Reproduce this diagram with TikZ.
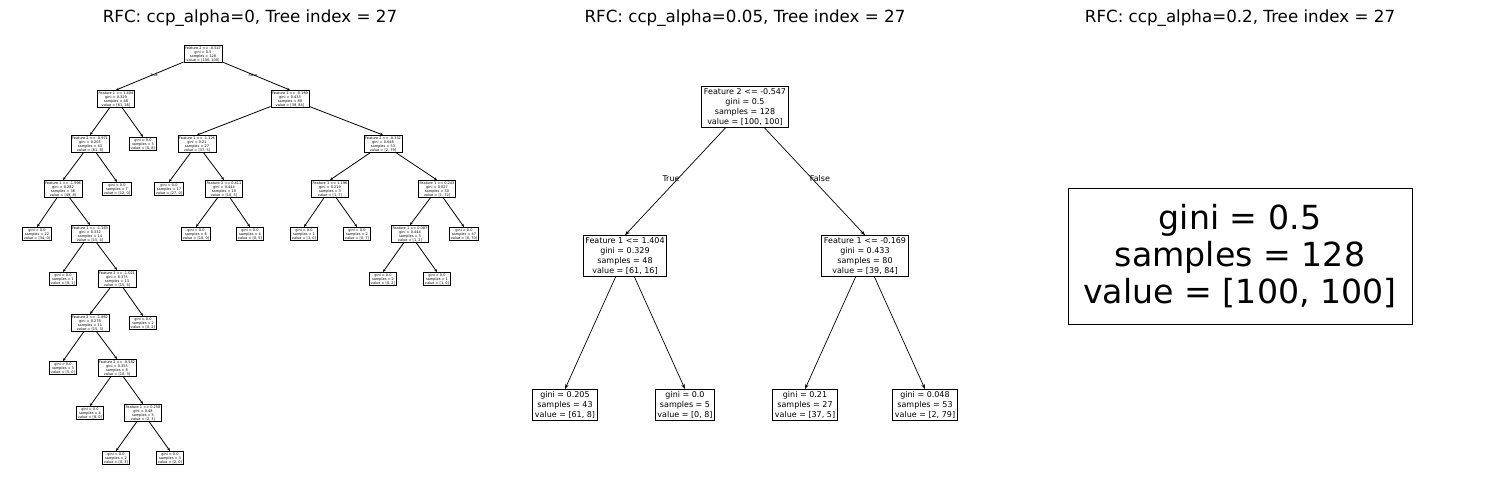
\documentclass[tikz,border=0pt]{standalone}
\usepackage{fontspec}
\setmainfont{DejaVu Sans}
\usetikzlibrary{arrows.meta}
\begin{document}
\begin{tikzpicture}[x=1pt,y=-1pt,
 tn/.style={draw,line width=0.9pt,fill=white,align=center,inner sep=1pt,font=\fontsize{3.5}{4}\selectfont},
 mn/.style={draw,line width=0.8pt,fill=white,align=center,inner sep=2.2pt,font=\fontsize{8}{9.8}\selectfont},
 ta/.style={-{Stealth[length=3pt,width=2.5pt]},line width=0.8pt},
 ma/.style={-{Stealth[length=5pt,width=3.5pt]},line width=0.7pt},
 tt/.style={font=\fontsize{16.7}{19}\selectfont}]
\useasboundingbox (0,0) rectangle (1489,490);
\node[tt] (t1) at (250,18) {RFC: ccp\_alpha=0, Tree index = 27};
\node[tt] (t2) at (745,18) {RFC: ccp\_alpha=0.05, Tree index = 27};
\node[tt] (t3) at (1240,18) {RFC: ccp\_alpha=0.2, Tree index = 27};
% left tree
\node[tn] (a) at (203,54) {Feature 2 <= -0.547\\gini = 0.5\\samples = 128\\value = [100, 100]};
\node[tn] (b) at (116,99) {Feature 1 <= 1.404\\gini = 0.329\\samples = 48\\value = [61, 16]};
\node[tn] (c) at (290,99) {Feature 1 <= -0.169\\gini = 0.433\\samples = 80\\value = [39, 84]};
\node[tn] (d) at (90,144) {Feature 2 <= -0.971\\gini = 0.205\\samples = 43\\value = [61, 8]};
\node[tn] (e) at (143,144) {gini = 0.0\\samples = 5\\value = [0, 8]};
\node[tn] (f) at (197,144) {Feature 1 <= -1.126\\gini = 0.21\\samples = 27\\value = [37, 5]};
\node[tn] (g) at (383,144) {Feature 2 <= -0.332\\gini = 0.048\\samples = 53\\value = [2, 79]};
\node[tn] (h) at (63,189) {Feature 1 <= -1.996\\gini = 0.282\\samples = 36\\value = [49, 8]};
\node[tn] (i) at (117,189) {gini = 0.0\\samples = 7\\value = [12, 0]};
\node[tn] (j) at (169,189) {gini = 0.0\\samples = 17\\value = [27, 0]};
\node[tn] (k) at (224,189) {Feature 2 <= 0.411\\gini = 0.444\\samples = 10\\value = [10, 5]};
\node[tn] (l) at (330,189) {Feature 1 <= 1.196\\gini = 0.219\\samples = 3\\value = [1, 7]};
\node[tn] (m) at (437,189) {Feature 1 <= 0.243\\gini = 0.027\\samples = 50\\value = [1, 72]};
\node[tn] (n) at (37,234) {gini = 0.0\\samples = 22\\value = [34, 0]};
\node[tn] (o) at (90,234) {Feature 1 <= -1.163\\gini = 0.332\\samples = 14\\value = [15, 4]};
\node[tn] (p) at (196,234) {gini = 0.0\\samples = 6\\value = [10, 0]};
\node[tn] (q) at (250,234) {gini = 0.0\\samples = 4\\value = [0, 5]};
\node[tn] (r) at (304,234) {gini = 0.0\\samples = 1\\value = [1, 0]};
\node[tn] (s) at (357,234) {gini = 0.0\\samples = 2\\value = [0, 7]};
\node[tn] (u) at (410,234) {Feature 1 <= 0.087\\gini = 0.444\\samples = 3\\value = [1, 2]};
\node[tn] (v) at (464,234) {gini = 0.0\\samples = 47\\value = [0, 70]};
\node[tn] (w) at (63,279) {gini = 0.0\\samples = 1\\value = [0, 1]};
\node[tn] (x) at (117,279) {Feature 2 <= -1.021\\gini = 0.375\\samples = 13\\value = [15, 5]};
\node[tn] (y) at (383,279) {gini = 0.0\\samples = 2\\value = [0, 2]};
\node[tn] (z) at (437,279) {gini = 0.0\\samples = 1\\value = [1, 0]};
\node[tn] (aa) at (90,323) {Feature 2 <= -1.862\\gini = 0.278\\samples = 11\\value = [15, 3]};
\node[tn] (ab) at (143,323) {gini = 0.0\\samples = 2\\value = [0, 2]};
\node[tn] (ac) at (63,368) {gini = 0.0\\samples = 3\\value = [5, 0]};
\node[tn] (ad) at (117,368) {Feature 2 <= -0.582\\gini = 0.355\\samples = 8\\value = [10, 3]};
\node[tn] (ae) at (90,413) {gini = 0.0\\samples = 4\\value = [8, 0]};
\node[tn] (af) at (143,413) {Feature 1 <= 0.258\\gini = 0.48\\samples = 5\\value = [2, 3]};
\node[tn] (ag) at (116,458) {gini = 0.0\\samples = 2\\value = [0, 3]};
\node[tn] (ah) at (170,458) {gini = 0.0\\samples = 3\\value = [2, 0]};
\foreach \p/\c in {a/b,a/c,b/d,b/e,c/f,c/g,d/h,d/i,f/j,f/k,g/l,g/m,h/n,h/o,k/p,k/q,l/r,l/s,m/u,m/v,o/w,o/x,u/y,u/z,x/aa,x/ab,aa/ac,aa/ad,ad/ae,ad/af,af/ag,af/ah}
  \draw[ta] (\p) -- (\c.north);
\node[font=\fontsize{3.5}{4}\selectfont] (lt) at (154,75) {True};
\node[font=\fontsize{3.5}{4}\selectfont] (lf) at (253,75) {False};
% middle tree
\node[mn] (m0) at (745,107) {Feature 2 <= -0.547\\gini = 0.5\\samples = 128\\value = [100, 100]};
\node[mn] (m1) at (625,256) {Feature 1 <= 1.404\\gini = 0.329\\samples = 48\\value = [61, 16]};
\node[mn] (m2) at (865,256) {Feature 1 <= -0.169\\gini = 0.433\\samples = 80\\value = [39, 84]};
\node[mn] (m3) at (565,405) {gini = 0.205\\samples = 43\\value = [61, 8]};
\node[mn] (m4) at (685,405) {gini = 0.0\\samples = 5\\value = [0, 8]};
\node[mn] (m5) at (805,405) {gini = 0.21\\samples = 27\\value = [37, 5]};
\node[mn] (m6) at (925,405) {gini = 0.048\\samples = 53\\value = [2, 79]};
\foreach \p/\c in {m0/m1,m0/m2,m1/m3,m1/m4,m2/m5,m2/m6}
  \draw[ma] (\p) -- (\c.north);
\node[font=\fontsize{8}{9}\selectfont] (mt) at (671,179) {True};
\node[font=\fontsize{8}{9}\selectfont] (mf) at (820,179) {False};
% right
\node[draw,line width=0.8pt,align=center,minimum width=344pt,minimum height=136pt,font=\fontsize{33.2}{37}\selectfont] (r0) at (1240,256) {gini = 0.5\\samples = 128\\value = [100, 100]};
\end{tikzpicture}
\end{document}
